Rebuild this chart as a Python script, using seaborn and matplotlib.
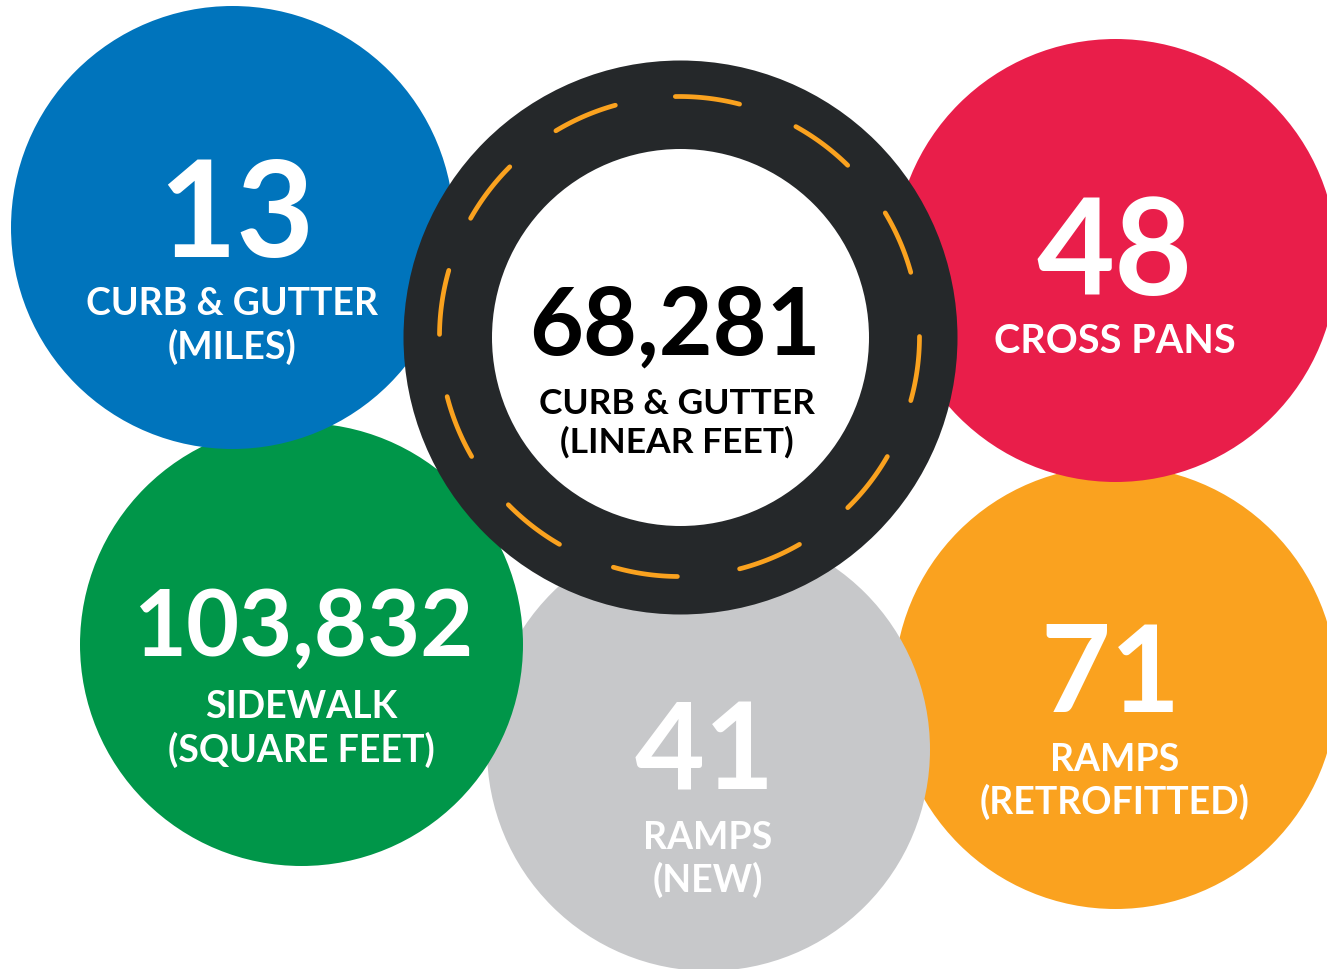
import numpy as np
import pandas as pd
import matplotlib
matplotlib.use("Agg")
import matplotlib.pyplot as plt
import seaborn as sns

# --- chart values ---
numbers = ["71", "41", "103,832", "13", "48"]
labels = ["RAMPS\n(RETROFITTED)", "RAMPS\n(NEW)", "SIDEWALK\n(SQUARE FEET)", "CURB & GUTTER\n(MILES)", "CROSS PANS"]
center_number = "68,281"
center_label = "CURB & GUTTER\n(LINEAR FEET)"

# --- layout and style, in image pixels ---
W, H, DPI = 1327, 970, 100
xs = [1115, 708, 301, 232, 1115]
ys = [688, 749.5, 645, 227.5, 260.5]
colors = ["#FAA21F", "#C7C8CA", "#009649", "#0074BC", "#E91E4A"]
radius = 221.5
num_x = [1111, 705, 303.5, 236.5, 1115]
num_base = [712, 790, 656, 257, 295]
num_fs = [87, 87, 66, 97, 97]
lab_y = [781.5, 859.5, 729, 326, 342]
lab_fs = [27, 27, 27, 27, 28.5]
ring_xy = (679.5, 337.5)
ring_r, hole_r, dash_r = 277, 188.5, 240
dash_starts = [91, 61, 31, 0, -30, -60, -90.5, -120, -150, -180.5, 150.5, 121]
dash_len = 15.5
ROAD = "#25282A"
DASH = "#FAA21F"
FONT = "Lato"

sns.set_theme(style="white", rc={"font.family": FONT})
fig = plt.figure(figsize=(W / DPI, H / DPI), dpi=DPI)
ax = fig.add_axes([0, 0, 1, 1])
ax.set_xlim(0, W)
ax.set_ylim(H, 0)
ax.axis("off")

def area(r):
    return (2 * r * 72 / DPI) ** 2

df = pd.DataFrame({"x": xs, "y": ys, "label": labels, "color": colors})
for _, row in df.iterrows():
    sns.scatterplot(x=[row.x], y=[row.y], s=area(radius), color=row.color,
                    linewidth=0, ax=ax, zorder=2, legend=False)
sns.scatterplot(x=[ring_xy[0]], y=[ring_xy[1]], s=area(ring_r), color=ROAD, linewidth=0, ax=ax, zorder=3, legend=False)
sns.scatterplot(x=[ring_xy[0]], y=[ring_xy[1]], s=area(hole_r), color="white", linewidth=0, ax=ax, zorder=4, legend=False)

for start in dash_starts:
    t = np.radians(np.linspace(start, start - dash_len, 30))
    ax.plot(ring_xy[0] + dash_r * np.cos(t), ring_xy[1] - dash_r * np.sin(t), color=DASH,
            lw=3.4, solid_capstyle="round", zorder=5)

for i, (n, l) in enumerate(zip(numbers, labels)):
    ax.text(num_x[i], num_base[i], n, ha="center", va="baseline", color="white",
            fontsize=num_fs[i], fontweight="bold", zorder=6)
    ax.text(xs[i], lab_y[i], l, ha="center", va="center", color="white",
            fontsize=lab_fs[i], fontweight="bold", linespacing=1.24, zorder=6)
ax.text(675, 355, center_number, ha="center", va="baseline", color="black", fontsize=67, fontweight="bold", zorder=6)
ax.text(677, 423, center_label, ha="center", va="center", color="black", fontsize=25.5, fontweight="bold", linespacing=1.22, zorder=6)

fig.savefig("out.png", dpi=DPI)
